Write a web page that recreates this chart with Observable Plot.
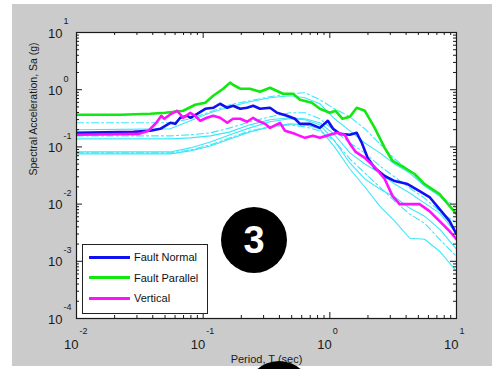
<!DOCTYPE html>
<html>
<head>
<meta charset="utf-8">
<script src="https://cdn.jsdelivr.net/npm/d3@7"></script>
<script src="https://cdn.jsdelivr.net/npm/@observablehq/plot@0.6"></script>
<style>
  html, body { margin: 0; padding: 0; background: #fff; overflow: hidden; }
  #fig { position: relative; width: 492px; height: 369px; overflow: hidden;
         font-family: "Liberation Sans", Arial, sans-serif; }
  #panel { position: absolute; left: 12px; top: 4px; width: 480px; height: 362px; background: #cbcbcb; }
  #chart { position: absolute; left: 0; top: 0; }
  #legend { position: absolute; left: 82px; top: 244px; width: 124px; height: 68px;
            background: #fff; border: 1px solid #222; }
  #legend .swatch { position: absolute; left: 6px; width: 41px; height: 3px; }
  #legend .label { position: absolute; left: 51px; font-size: 11px; color: #111; line-height: 12px; }
  .badge { position: absolute; width: 66px; height: 66px; border-radius: 50%; background: #000;
           color: #fff; font-weight: bold; font-size: 38px; text-align: center; line-height: 66px;
           font-family: "Liberation Sans", Arial, sans-serif; }
</style>
</head>
<body>
<div id="fig">
  <div id="panel"></div>
  <div id="chart"></div>
  <div id="legend"></div>
  <div class="badge" style="left:221px; top:207px;">3</div>
  <div class="badge" style="left:246px; top:361px;"></div>
</div>
<script>
// Response spectra: period T (s) vs spectral acceleration Sa (g)

// Fault Normal component
const periodFN = [0.01, 0.0281, 0.0383, 0.0459, 0.0502, 0.0550, 0.0602, 0.0659, 0.0749, 0.0791,
  0.0897, 0.104, 0.120, 0.136, 0.155, 0.172, 0.196, 0.222, 0.248, 0.281, 0.337, 0.383, 0.459,
  0.530, 0.581, 0.697, 0.834, 0.964, 1.06, 1.20, 1.44, 1.63, 1.79, 1.99, 2.26, 2.71, 3.25, 4.11,
  5.11, 6.12, 7.35, 8.81, 10];
const saFN = [0.176, 0.183, 0.191, 0.207, 0.234, 0.264, 0.253, 0.323, 0.350, 0.323,
  0.379, 0.464, 0.483, 0.568, 0.483, 0.524, 0.464, 0.483, 0.524, 0.464, 0.483, 0.395, 0.350,
  0.310, 0.253, 0.253, 0.215, 0.286, 0.207, 0.169, 0.163, 0.176, 0.117, 0.0641, 0.0428, 0.0310,
  0.0253, 0.0224, 0.0169, 0.0133, 0.00817, 0.00503, 0.00298];

// Fault Parallel component
const periodFP = [0.01, 0.0222, 0.0383, 0.0502, 0.0696, 0.0865, 0.104, 0.120, 0.144, 0.163,
  0.172, 0.196, 0.234, 0.281, 0.337, 0.427, 0.512, 0.581, 0.722, 0.834, 1.00, 1.11, 1.26, 1.44,
  1.63, 1.89, 2.26, 2.71, 3.13, 3.90, 4.67, 5.60, 7.35, 10];
const saFP = [0.364, 0.364, 0.379, 0.395, 0.428, 0.546, 0.592, 0.785, 1.04, 1.33,
  1.22, 1.04, 1.04, 0.922, 1.08, 0.851, 0.851, 0.668, 0.592, 0.464, 0.395, 0.428, 0.310, 0.336,
  0.483, 0.428, 0.215, 0.0960, 0.0568, 0.0428, 0.0336, 0.0224, 0.0150, 0.00668];

// Vertical component
const periodV = [0.01, 0.0313, 0.0369, 0.0427, 0.0467, 0.0493, 0.0560, 0.0624, 0.0696, 0.0791,
  0.0865, 0.0947, 0.107, 0.120, 0.136, 0.155, 0.172, 0.196, 0.222, 0.248, 0.271, 0.308, 0.337,
  0.404, 0.443, 0.530, 0.636, 0.735, 0.834, 1.00, 1.14, 1.31, 1.44, 1.60, 1.89, 2.26, 2.71, 3.13,
  3.56, 4.27, 5.11, 6.12, 7.35, 8.81, 10];
const saV = [0.163, 0.169, 0.191, 0.264, 0.350, 0.310, 0.379, 0.428, 0.323, 0.395,
  0.350, 0.286, 0.323, 0.350, 0.323, 0.264, 0.310, 0.310, 0.275, 0.323, 0.286, 0.253, 0.215,
  0.264, 0.191, 0.169, 0.144, 0.156, 0.144, 0.163, 0.176, 0.163, 0.113, 0.0817, 0.0641, 0.0446,
  0.0275, 0.0138, 0.0100, 0.0100, 0.0100, 0.00754, 0.00503, 0.00336, 0.00243];

// Individual records and statistics (cyan), sampled on a common period grid
const periodRec = [0.01, 0.055, 0.0791, 0.114, 0.163, 0.234, 0.337, 0.484, 0.636, 0.834,
  1.09, 1.44, 1.89, 2.48, 3.25, 4.27, 5.60, 7.35, 10];
const rec1 = [0.264, 0.264, 0.310, 0.411, 0.546, 0.641, 0.754, 0.851, 0.886, 0.668,
  0.464, 0.336, 0.207, 0.113, 0.0615, 0.0379, 0.0224, 0.0138, 0.00886];
const rec2 = [0.199, 0.207, 0.286, 0.395, 0.503, 0.616, 0.724, 0.785, 0.724, 0.568,
  0.310, 0.191, 0.117, 0.0785, 0.0503, 0.0350, 0.0207, 0.0138, 0.00695];
const rec3 = [0.156, 0.156, 0.163, 0.176, 0.215, 0.275, 0.336, 0.395, 0.395, 0.310,
  0.191, 0.117, 0.0785, 0.0464, 0.0298, 0.0191, 0.0127, 0.00754, 0.00464];
const rec4 = [0.138, 0.138, 0.144, 0.156, 0.183, 0.243, 0.298, 0.323, 0.310, 0.264,
  0.163, 0.0785, 0.0503, 0.0350, 0.0224, 0.0156, 0.0104, 0.00695, 0.00310];
const rec5 = [0.0817, 0.0817, 0.0960, 0.122, 0.163, 0.215, 0.275, 0.310, 0.298, 0.243,
  0.127, 0.0524, 0.0275, 0.0183, 0.0133, 0.00851, 0.00615, 0.00364, 0.00163];
const rec6 = [0.0754, 0.0754, 0.0851, 0.104, 0.138, 0.183, 0.224, 0.253, 0.243, 0.207,
  0.100, 0.0411, 0.0199, 0.00923, 0.00503, 0.00253, 0.00243, 0.00150, 0.000668];
const rec7 = [0.0785, 0.0785, 0.0886, 0.108, 0.144, 0.191, 0.224, 0.243, 0.224, 0.191,
  0.127, 0.0615, 0.0350, 0.0199, 0.0113, 0.00668, 0.00464, 0.00243, 0.00122];
const solidRecords = [rec2, rec4, rec5, rec6];
const dashedRecords = [rec1, rec3, rec7];

const seriesNames = ["Fault Normal", "Fault Parallel", "Vertical"];
const seriesColors = ["#1010f0", "#10e810", "#ff10ff"];
const recordColor = "#3ee6fa";

// Tick labels: powers of ten
const xExponents = [-2, -1, 0, 1];
const yExponents = [-4, -3, -2, -1, 0, 1];
const xTitle = "Period, T (sec)";
const yTitle = "Spectral Acceleration, Sa (g)";

// ---- build tables ----
const zip = (ts, vs, id) => ts.map((t, i) => ({T: t, Sa: vs[i], id}));
const mainRows = [
  zip(periodFN, saFN, seriesNames[0]),
  zip(periodFP, saFP, seriesNames[1]),
  zip(periodV, saV, seriesNames[2])
];
const solidRows = solidRecords.flatMap((r, k) => zip(periodRec, r, "s" + k));
const dashedRows = dashedRecords.flatMap((r, k) => zip(periodRec, r, "d" + k));

function minorTicks(lo, hi) {
  const out = [];
  for (let e = lo; e < hi; e++) for (let m = 2; m <= 9; m++) out.push(m * 10 ** e);
  return out;
}
const xMajor = xExponents.map(e => 10 ** e);
const yMajor = yExponents.map(e => 10 ** e);
const xMinor = minorTicks(-2, 1);
const yMinor = minorTicks(-4, 1);

const W = 492, H = 369, mL = 76, mT = 32, mR = 36, mB = 51;
const innerW = W - mL - mR, innerH = H - mT - mB;
const major = 6, minor = 3;
const ink = "#1a1a1a";
const font = "Liberation Sans, Arial, sans-serif";

const chart = Plot.plot({
  width: W, height: H,
  marginLeft: mL, marginTop: mT, marginRight: mR, marginBottom: mB,
  style: {background: "transparent", fontFamily: font, color: ink},
  x: {type: "log", domain: [0.01, 10], axis: null},
  y: {type: "log", domain: [1e-4, 10], axis: null},
  marks: [
    Plot.frame({fill: "white"}),
    Plot.line(solidRows, {x: "T", y: "Sa", z: "id", stroke: recordColor, strokeWidth: 1.1, clip: true}),
    Plot.line(dashedRows, {x: "T", y: "Sa", z: "id", stroke: recordColor, strokeWidth: 1.1,
      strokeDasharray: "7,3,2,3", clip: true}),
    ...mainRows.map((rows, i) => Plot.line(rows, {x: "T", y: "Sa", stroke: seriesColors[i],
      strokeWidth: 2.6, clip: true})),
    // inward ticks on all four sides
    Plot.ruleY(yMajor, {stroke: ink, insetRight: innerW - major}),
    Plot.ruleY(yMajor, {stroke: ink, insetLeft: innerW - major}),
    Plot.ruleY(yMinor, {stroke: ink, insetRight: innerW - minor}),
    Plot.ruleY(yMinor, {stroke: ink, insetLeft: innerW - minor}),
    Plot.ruleX(xMajor, {stroke: ink, insetTop: innerH - major}),
    Plot.ruleX(xMajor, {stroke: ink, insetBottom: innerH - major}),
    Plot.ruleX(xMinor, {stroke: ink, insetTop: innerH - minor}),
    Plot.ruleX(xMinor, {stroke: ink, insetBottom: innerH - minor}),
    Plot.frame({stroke: ink, strokeWidth: 1.2}),
    // y tick labels
    Plot.text(yExponents, {x: 0.01, y: d => 10 ** d, text: () => "10", dx: -14, dy: 1,
      textAnchor: "end", fontSize: 13, fill: ink}),
    Plot.text(yExponents, {x: 0.01, y: d => 10 ** d, text: d => String(d), dx: -13, dy: -11,
      textAnchor: "start", fontSize: 9, fill: ink}),
    // x tick labels
    Plot.text(xExponents, {x: d => 10 ** d, y: 1e-4, text: () => "10", dx: 2, dy: 26,
      textAnchor: "end", fontSize: 13, fill: ink}),
    Plot.text(xExponents, {x: d => 10 ** d, y: 1e-4, text: d => String(d), dx: 3, dy: 13,
      textAnchor: "start", fontSize: 9, fill: ink}),
    // axis titles
    Plot.text([xTitle], {frameAnchor: "bottom", dy: 44, fontSize: 11, fill: ink}),
    Plot.text([yTitle], {frameAnchor: "left", dx: -43, rotate: -90, fontSize: 10.5, fill: ink})
  ]
});
document.getElementById("chart").appendChild(chart);

// legend
const legend = document.getElementById("legend");
seriesNames.forEach((name, i) => {
  const cy = 12 + i * 20.5;
  const sw = document.createElement("div");
  sw.className = "swatch";
  sw.style.top = (cy - 1.5) + "px";
  sw.style.background = seriesColors[i];
  legend.appendChild(sw);
  const lb = document.createElement("div");
  lb.className = "label";
  lb.style.top = (cy - 6) + "px";
  lb.textContent = name;
  legend.appendChild(lb);
});
</script>
</body>
</html>
